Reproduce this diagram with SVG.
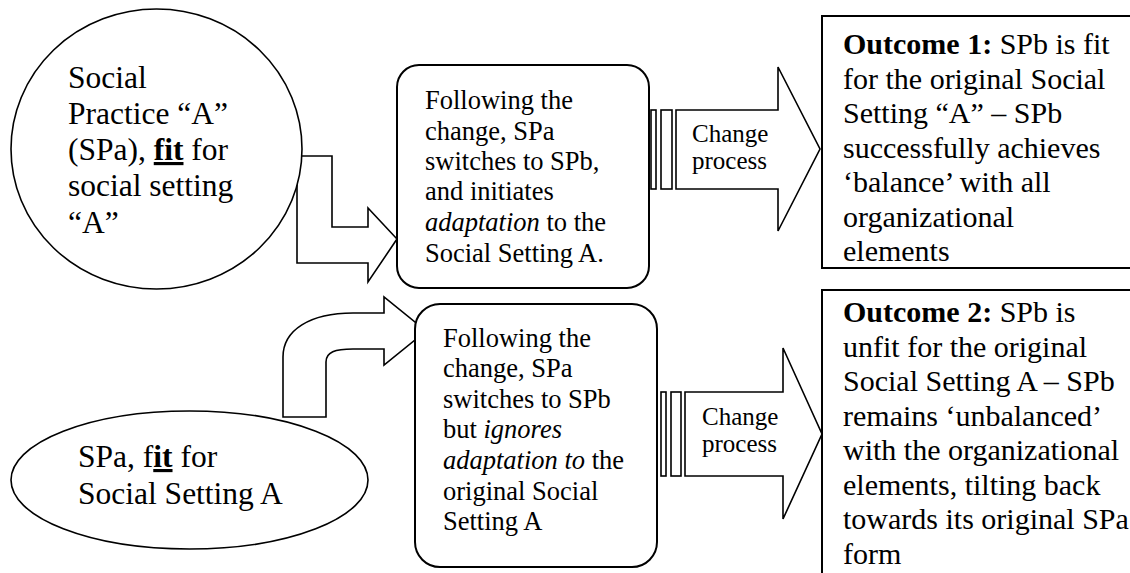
<svg xmlns="http://www.w3.org/2000/svg" width="1130" height="573" viewBox="0 0 1130 573">
<style>
  .shape { fill: #ffffff; stroke: #000000; stroke-width: 2; }
  .thin { fill: #ffffff; stroke: #000000; stroke-width: 1.6; }
  text { font-family: "Liberation Serif", "Times New Roman", serif; fill: #000000; }
  .big { font-size: 31.5px; }
  .mid { font-size: 26.5px; }
  .out { font-size: 30px; }
  .lbl { font-size: 25px; }
  .b { font-weight: bold; }
  .i { font-style: italic; }
  .u { text-decoration: underline; }
</style>
<rect width="1130" height="573" fill="#ffffff"/>

<g id="connectors">
  <path id="bent-arrow" class="thin" d="M297,156 L332,156 L332,227 L368,227 L368,208 L397,239 L368,282 L368,263 L297,263 Z"/>
  <path id="curved-arrow" class="thin" d="M283,417 L283,357 C283,330 310,313 353,313 L384,313 L384,297 L426,331 L384,365 L384,349 L353,349 C335,349 326,352 326,362 L326,417 Z"/>
  <g id="striped-arrow-1">
    <rect class="thin" x="651" y="110" width="5" height="79"/>
    <rect class="thin" x="661" y="110" width="11" height="79"/>
    <path class="thin" d="M676,110 L778,110 L778,67 L820,149 L778,231 L778,189 L676,189 Z"/>
    <text class="lbl" x="692" y="142">Change</text>
    <text class="lbl" x="692" y="169">process</text>
  </g>
  <g id="striped-arrow-2">
    <rect class="thin" x="661" y="392" width="5" height="84"/>
    <rect class="thin" x="671" y="392" width="10" height="84"/>
    <path class="thin" d="M685,392 L783,392 L783,348 L822,434 L783,519 L783,476 L685,476 Z"/>
    <text class="lbl" x="702" y="425">Change</text>
    <text class="lbl" x="702" y="452">process</text>
  </g>
</g>

<g id="node-social-practice">
  <ellipse class="thin" cx="156.5" cy="149" rx="145.5" ry="140"/>
  <text class="big" x="68" y="88">Social</text>
  <text class="big" x="68" y="124">Practice “A”</text>
  <text class="big" x="68" y="160">(SPa), <tspan class="b u">fit</tspan> for</text>
  <text class="big" x="68" y="196">social setting</text>
  <text class="big" x="68" y="233">“A”</text>
</g>

<g id="node-spa-fit">
  <ellipse class="thin" cx="189.5" cy="480" rx="178.5" ry="69"/>
  <text class="big" x="78" y="467">SPa, f<tspan class="b u">it</tspan> for</text>
  <text class="big" x="78" y="504">Social Setting A</text>
</g>

<g id="node-adaptation">
  <rect class="shape" x="397" y="65" width="252" height="223" rx="22"/>
  <text class="mid" x="425" y="109">Following the</text>
  <text class="mid" x="425" y="140">change, SPa</text>
  <text class="mid" x="425" y="170">switches to SPb,</text>
  <text class="mid" x="425" y="200">and initiates</text>
  <text class="mid" x="425" y="231"><tspan class="i">adaptation</tspan> to the</text>
  <text class="mid" x="425" y="262">Social Setting A.</text>
</g>

<g id="node-ignores">
  <rect class="shape" x="415" y="304" width="242" height="263" rx="25"/>
  <text class="mid" x="443" y="347">Following the</text>
  <text class="mid" x="443" y="377">change, SPa</text>
  <text class="mid" x="443" y="408">switches to SPb</text>
  <text class="mid" x="443" y="438">but <tspan class="i">ignores</tspan></text>
  <text class="mid" x="443" y="469"><tspan class="i">adaptation to</tspan> the</text>
  <text class="mid" x="443" y="500">original Social</text>
  <text class="mid" x="443" y="530">Setting A</text>
</g>

<g id="node-outcome-1">
  <rect class="shape" x="822" y="16" width="330" height="252"/>
  <text class="out" x="843" y="54"><tspan class="b">Outcome 1:</tspan> SPb is fit</text>
  <text class="out" x="843" y="88.5">for the original Social</text>
  <text class="out" x="843" y="123">Setting “A” – SPb</text>
  <text class="out" x="843" y="157.5">successfully achieves</text>
  <text class="out" x="843" y="192">‘balance’ with all</text>
  <text class="out" x="843" y="226.5">organizational</text>
  <text class="out" x="843" y="261">elements</text>
</g>

<g id="node-outcome-2">
  <rect class="shape" x="822" y="290" width="330" height="310"/>
  <text class="out" x="843" y="322">
    <tspan class="b">Outcome 2:</tspan> SPb is</text>
  <text class="out" x="843" y="356.5">unfit for the original</text>
  <text class="out" x="843" y="391">Social Setting A – SPb</text>
  <text class="out" x="843" y="425.5">remains ‘unbalanced’</text>
  <text class="out" x="843" y="460">with the organizational</text>
  <text class="out" x="843" y="494.5">elements, tilting back</text>
  <text class="out" x="843" y="529">towards its original SPa</text>
  <text class="out" x="843" y="563.5">form</text>
</g>
</svg>
